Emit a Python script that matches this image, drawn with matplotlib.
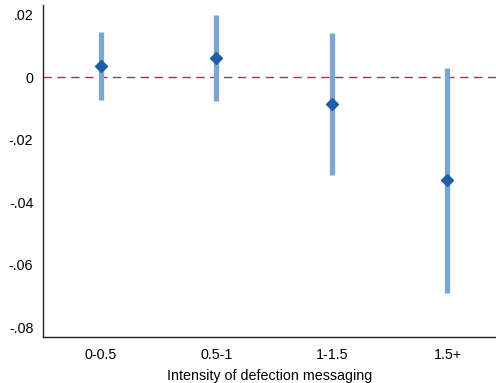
import matplotlib
matplotlib.use("Agg")
import matplotlib.pyplot as plt

categories = ["0-0.5", "0.5-1", "1-1.5", "1.5+"]
estimates = [0.0036, 0.0062, -0.0086, -0.0330]
ci_low = [-0.0072, -0.0075, -0.0314, -0.0691]
ci_high = [0.0144, 0.0199, 0.0142, 0.0031]
yticks = [0.02, 0.0, -0.02, -0.04, -0.06, -0.08]
ytick_labels = [".02", "0", "-.02", "-.04", "-.06", "-.08"]

plt.rcParams['font.family'] = ['Liberation Sans', 'DejaVu Sans']

fig = plt.figure(figsize=(4.96, 3.83), dpi=100)
ax = fig.add_axes([43/496, 1-337/383, (496-43)/496, (337-5)/383])

x = list(range(1, len(categories)+1))
ax.axhline(0, color='#a8344a', lw=1.0, ls=(0, (6, 4)), zorder=1)
ax.vlines(x, ci_low, ci_high, color='#7aa6d4', lw=3.8, zorder=2)
ax.plot(x, estimates, ls='none', marker='D', ms=6.5, color='#1f5fa8', zorder=3)

ax.set_xlim(0.5, 4.42)
ax.set_ylim(-0.0831, 0.0231)
ax.set_xticks(x)
ax.set_xticklabels(categories, fontsize=10.3)
ax.set_yticks(yticks)
ax.set_yticklabels(ytick_labels, fontsize=10.3)
ax.tick_params(axis='x', length=0, pad=8)
ax.tick_params(axis='y', length=0, pad=7)
ax.set_xlabel("Intensity of defection messaging", fontsize=10.3, labelpad=5)
for s in ['top', 'right']:
    ax.spines[s].set_visible(False)
for s in ['left', 'bottom']:
    ax.spines[s].set_linewidth(1.0)
    ax.spines[s].set_color('#222222')

fig.savefig("out.png", dpi=100)
